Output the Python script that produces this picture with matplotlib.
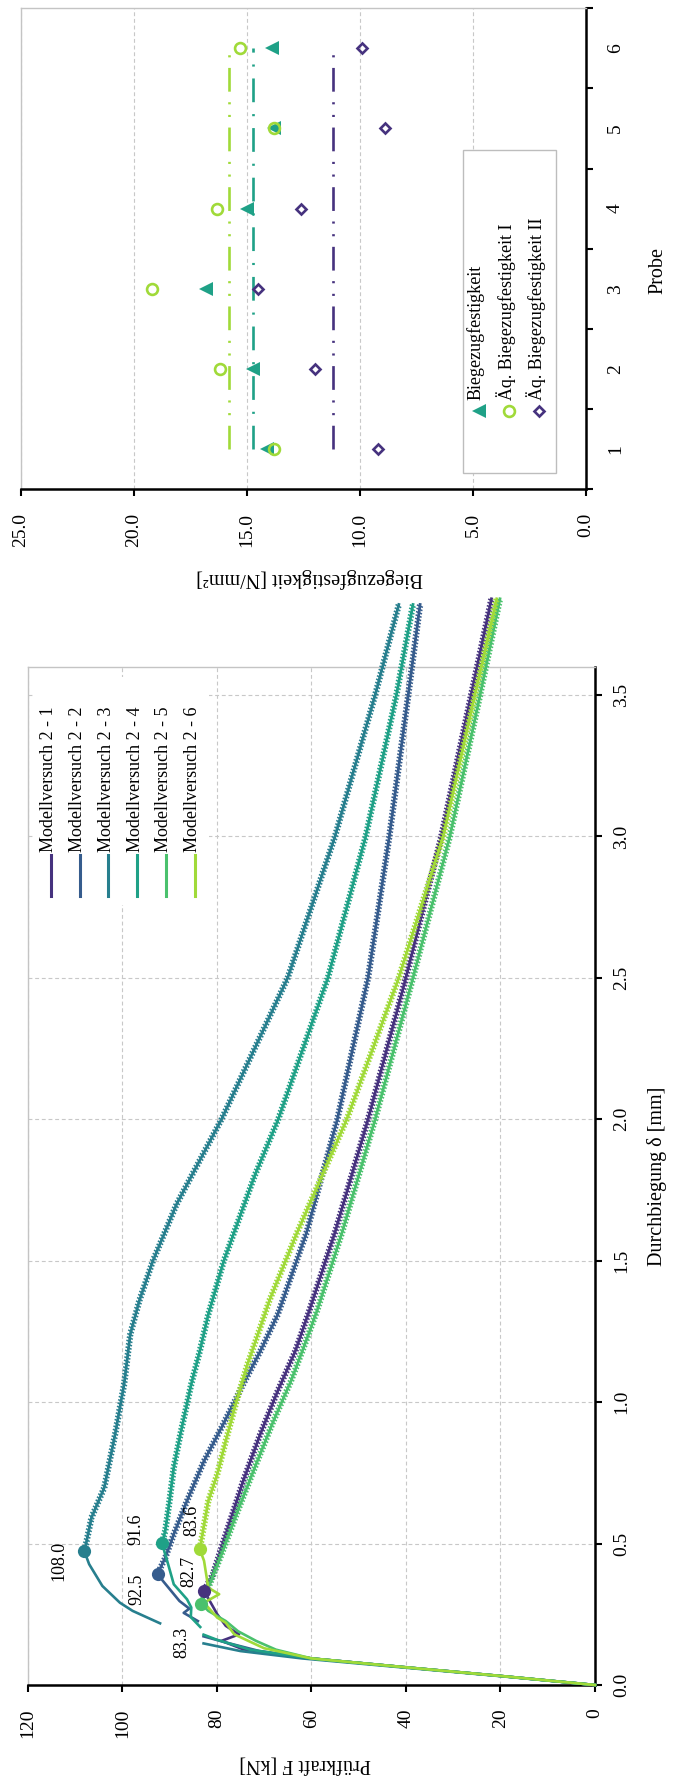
import numpy as np
import matplotlib
matplotlib.use("Agg")
import matplotlib.pyplot as plt
from matplotlib import patheffects as pe
from matplotlib.lines import Line2D
from matplotlib.patches import Rectangle

plt.rcParams['font.family'] = ['Liberation Serif', 'DejaVu Serif']

# ---------------- data: load-deflection curves (deflection mm, force kN) ----------------
names = ["Modellversuch 2 - 1", "Modellversuch 2 - 2", "Modellversuch 2 - 3",
         "Modellversuch 2 - 4", "Modellversuch 2 - 5", "Modellversuch 2 - 6"]
colors = ["#46327e", "#365c8d", "#277f8e", "#1fa187", "#4ac16d", "#a0da39"]
nan = np.nan

d1 = [0, 0.032, 0.0625, 0.094, 0.126, 0.156, 0.179, 0.209, 0.25, 0.333, 0.392, 0.533, 0.722,
      0.887, 1.04, 1.18, 1.31, 1.6, 2.0, 2.5, 3.0, 3.5, 3.84]
f1 = [0, 20, 40, 60, 74.4, 79, 75.3, 78.1, 79.9, 82.7, 80.8, 78.1, 74.4,
      70.8, 67.1, 63.4, 60.7, 55, 48, 40, 32.5, 26.2, 21.9]

d2 = [0, 0.032, 0.0625, 0.094, 0.12, 0.15, 0.172, nan, 0.226, 0.255, 0.27, 0.297, 0.368, 0.394,
      0.45, 0.533, 0.651, 0.792, 0.91, 1.064, 1.18, 1.31, 1.6, 2.0, 2.5, 3.0, 3.5, 3.82]
f2 = [0, 20, 40, 60, 71, 78, 82.8, nan, 84, 87.0, 85.8, 87.9, 91.4, 92.5,
      90.9, 89.1, 86.3, 82.7, 79, 74.4, 70.8, 67.1, 61, 54.5, 48, 43.5, 39.5, 37]

d3 = [0, 0.032, 0.0625, 0.094, 0.12, 0.147, nan, 0.218, 0.262, 0.291, 0.35, 0.427, 0.472,
      0.592, 0.698, 0.887, 1.064, 1.24, 1.358, 1.5, 1.7, 2.0, 2.5, 3.0, 3.5, 3.82]
f3 = [0, 20.5, 41, 62, 75, 82.8, nan, 92, 97.8, 100.5, 104.2, 107, 108.0,
      106.5, 103.8, 101.5, 99.6, 98.3, 96.4, 93.5, 88.5, 79, 65, 55, 46.5, 41.5]

d4 = [0, 0.032, 0.0625, 0.094, 0.125, 0.16, 0.178, nan, 0.205, 0.24, 0.274, 0.303, 0.356, 0.439,
      0.501, 0.545, 0.651, 0.769, 0.887, 1.064, 1.18, 1.31, 1.5, 1.8, 2.0, 2.5, 3.0, 3.5, 3.82]
f4 = [0, 20, 40, 60, 73, 80, 82.8, nan, 83.5, 85.5, 85.4, 86.3, 89.1, 90.5,
      91.6, 90.9, 90, 89.1, 87.7, 85.4, 83.6, 81.8, 78.5, 72, 67, 56.5, 48.5, 42, 38.5]

d5 = [0, 0.032, 0.0625, 0.094, 0.125, 0.156, 0.19, 0.226, 0.262, 0.288, 0.344, 0.462, 0.627,
      0.78, 0.934, 1.075, 1.217, 1.323, 1.6, 2.0, 2.5, 3.0, 3.5, 3.84]
f5 = [0, 20, 40, 60, 67.5, 71.7, 75.5, 78.1, 81.8, 83.3, 81.8, 79, 75.3,
      71.7, 68, 64.3, 61.1, 58.8, 53.5, 46.5, 38.5, 30.7, 24.3, 20.1]

d6 = [0, 0.032, 0.0625, 0.094, 0.13, 0.179, 0.22, 0.238, 0.291, 0.321, 0.344, 0.439, 0.48,
      0.651, 0.745, 0.863, 1.005, 1.134, 1.264, 1.358, 1.6, 2.0, 2.5, 3.0, 3.5, 3.84]
f6 = [0, 20, 40, 60, 70, 76.3, 78.1, 79.9, 82.7, 79.5, 81.8, 82.7, 83.6,
      81.8, 79.9, 78.1, 75.8, 73.5, 70.8, 68.9, 63, 52.5, 41.5, 32.1, 25.4, 20.8]

peak_F = [82.7, 92.5, 108.0, 91.6, 83.3, 83.6]
peak_d = [0.333, 0.394, 0.472, 0.501, 0.288, 0.48]
label_F = [85.9, 96.9, 113.4, 97.1, 87.3, 85.2]
label_d = [0.403, 0.338, 0.439, 0.551, 0.150, 0.583]

# ---------------- data: Biegezugfestigkeit per Probe ----------------
probe = [1, 2, 3, 4, 5, 6]
bzf = [14.1, 14.7, 16.8, 15.0, 13.8, 13.9]
aeq1 = [13.8, 16.2, 19.2, 16.3, 13.8, 15.3]
aeq2 = [9.2, 12.0, 14.5, 12.6, 8.9, 9.9]
upper_names = ["Biegezugfestigkeit", "Äq. Biegezugfestigkeit I", "Äq. Biegezugfestigkeit II"]

F_ticks = [0, 20, 40, 60, 80, 100, 120]
d_ticks = [0.0, 0.5, 1.0, 1.5, 2.0, 2.5, 3.0, 3.5]
s_ticks = [0.0, 5.0, 10.0, 15.0, 20.0, 25.0]

# ---------------- figure (portrait, chart drawn rotated) ----------------
W, H = 679, 1778
fig = plt.figure(figsize=(W / 100, H / 100), dpi=100)


def fx(px):
    return px / W


def fy(py):
    return 1 - py / H


GRID = "#c8c8c8"
FRAME = "#c4c4c4"
TS = 14

def style_axes(ax):
    ax.set_axisbelow(True)
    for s in ("left", "top"):
        ax.spines[s].set_color(FRAME)
        ax.spines[s].set_linewidth(1.0)
    for s in ("bottom", "right"):
        ax.spines[s].set_color("black")
        ax.spines[s].set_linewidth(1.8)
    ax.xaxis.tick_bottom()
    ax.yaxis.tick_right()
    ax.tick_params(which="major", direction="out", length=5, width=1.5, labelsize=TS)


# ---- lower axes: force (horizontal, reversed) vs deflection (vertical) ----
ax1 = fig.add_axes([fx(27.7), fy(1685), (595 - 27.7) / W, (1685 - 666.7) / H])
style_axes(ax1)
ax1.set_xlim(120, 0)
ax1.set_ylim(0, 3.6)
ax1.set_xticks(F_ticks, [str(v) for v in F_ticks], rotation=90)
ax1.set_yticks(d_ticks, [f"{v:.1f}" for v in d_ticks], rotation=90, va="center", ha="left")
ax1.tick_params(axis="x", pad=12)
ax1.tick_params(axis="y", pad=8)
ax1.grid(True, color=GRID, linestyle=(0, (3.5, 2.5)), linewidth=0.8)

series_d = [d1, d2, d3, d4, d5, d6]
series_f = [f1, f2, f3, f4, f5, f6]
zz = [pe.withTickedStroke(spacing=2.4, angle=75, length=0.75, linewidth=1.1),
      pe.TickedStroke(spacing=2.4, angle=-105, length=0.75, linewidth=1.1)]
for d, f, c, pf in zip(series_d, series_f, colors, peak_F):
    d = np.asarray(d, float)
    f = np.asarray(f, float)
    k = int(np.nanargmax(f == pf))
    ax1.plot(f[:k + 1], d[:k + 1], color=c, lw=1.9, clip_on=False, zorder=3,
             solid_joinstyle="round")
    ax1.plot(f[k:], d[k:], color=c, lw=2.0, clip_on=False, zorder=3,
             path_effects=zz, solid_joinstyle="round")

for pf, pd_, lf, ld, c in zip(peak_F, peak_d, label_F, label_d, colors):
    ax1.plot([pf], [pd_], "o", ms=9.5, color=c, mew=0, zorder=5)
    ax1.text(lf, ld, f"{pf:.1f}", rotation=90, ha="center", va="center",
             fontsize=13, zorder=6)

# lower legend (drawn rotated)
fig.add_artist(Rectangle((fx(33), fy(905)), (209 - 33) / W, (905 - 677) / H,
                         transform=fig.transFigure, facecolor="white",
                         edgecolor="none", zorder=3))
for i, (nm, c) in enumerate(zip(names, colors)):
    xh = 51 + 28.7 * i
    fig.add_artist(Line2D([fx(xh), fx(xh)], [fy(896), fy(855)], color=c, lw=2.2,
                          transform=fig.transFigure, zorder=4))
    fig.text(fx(xh - 2), fy(852), nm, rotation=90, ha="center", va="bottom",
             fontsize=13, zorder=5)

fig.text(fx(305), fy(1763), "Prüfkraft F [kN]", rotation=180, ha="center",
         va="center", fontsize=14.5)
fig.text(fx(657), fy(1176), "Durchbiegung δ [mm]", rotation=90, ha="center",
         va="center", fontsize=14.5)

# ---- upper axes: strength (horizontal, reversed) vs Probe (vertical) ----
ax2 = fig.add_axes([fx(20.5), fy(489), (586 - 20.5) / W, (489 - 8.3) / H])
style_axes(ax2)
ax2.set_xlim(25, 0)
ax2.set_ylim(probe[0] - 0.5, probe[-1] + 0.5)
ax2.set_xticks(s_ticks, [f"{v:.1f}" for v in s_ticks], rotation=90)
ax2.tick_params(axis="x", pad=12)
ax2.set_yticks(np.arange(probe[0] - 0.5, probe[-1] + 1, 1.0), [])
ax2.set_yticks(probe, [str(p) for p in probe], minor=True, rotation=90,
               va="center", ha="left")
ax2.tick_params(axis="y", which="minor", length=0, pad=15, labelsize=TS)
ax2.grid(True, axis="x", color=GRID, linestyle=(0, (3.5, 2.5)), linewidth=0.8)

c_tri, c_circ, c_dia = colors[3], colors[5], colors[0]
ax2.plot([np.mean(bzf)] * 2, [probe[0], probe[-1]], color=c_tri, lw=1.9,
         linestyle=(0, (9, 4.5, 0.8, 4.5)), zorder=2)
ax2.plot([np.mean(aeq1)] * 2, [probe[0], probe[-1]], color=c_circ, lw=1.9,
         linestyle=(0, (9, 4, 0.8, 4, 0.8, 4)), zorder=2)
ax2.plot([np.mean(aeq2)] * 2, [probe[0], probe[-1]], color=c_dia, lw=1.9,
         linestyle=(0, (9, 4, 0.8, 4, 0.8, 4)), zorder=2)
ax2.plot(bzf, probe, ls="none", marker="<", ms=10, color=c_tri, mew=0, zorder=3)
ax2.plot(aeq1, probe, ls="none", marker="o", ms=7.8, mfc="none", mec=c_circ,
         mew=1.9, zorder=4)
ax2.plot(aeq2, probe, ls="none", marker="D", ms=5.6, mfc="none", mec=c_dia,
         mew=1.9, zorder=4)

# upper legend (drawn rotated)
fig.add_artist(Rectangle((fx(463.3), fy(473.3)), (555.7 - 463.3) / W, (473.3 - 150) / H,
                         transform=fig.transFigure, facecolor="white",
                         edgecolor="#bdbdbd", lw=1.0, zorder=5))
leg_mk = [dict(marker="<", ms=10, color=c_tri, mew=0),
          dict(marker="o", ms=7.8, mfc="none", mec=c_circ, mew=1.9, color=c_circ),
          dict(marker="D", ms=5.6, mfc="none", mec=c_dia, mew=1.9, color=c_dia)]
for i, (nm, mk) in enumerate(zip(upper_names, leg_mk)):
    xm = 479.3 + 30 * i
    fig.add_artist(Line2D([fx(xm)], [fy(410.7)], ls="none", transform=fig.transFigure,
                          zorder=6, **mk))
    fig.text(fx(xm - 3.5), fy(400), nm, rotation=90, ha="center", va="bottom",
             fontsize=13, zorder=7)

fig.text(fx(658), fy(270), "Probe", rotation=90, ha="center", va="center", fontsize=14.5)
fig.text(fx(310), fy(578), "Biegezugfestigkeit [N/mm²]", rotation=180, ha="center",
         va="center", fontsize=14.5)

fig.savefig("out.png", dpi=100, facecolor="white")
